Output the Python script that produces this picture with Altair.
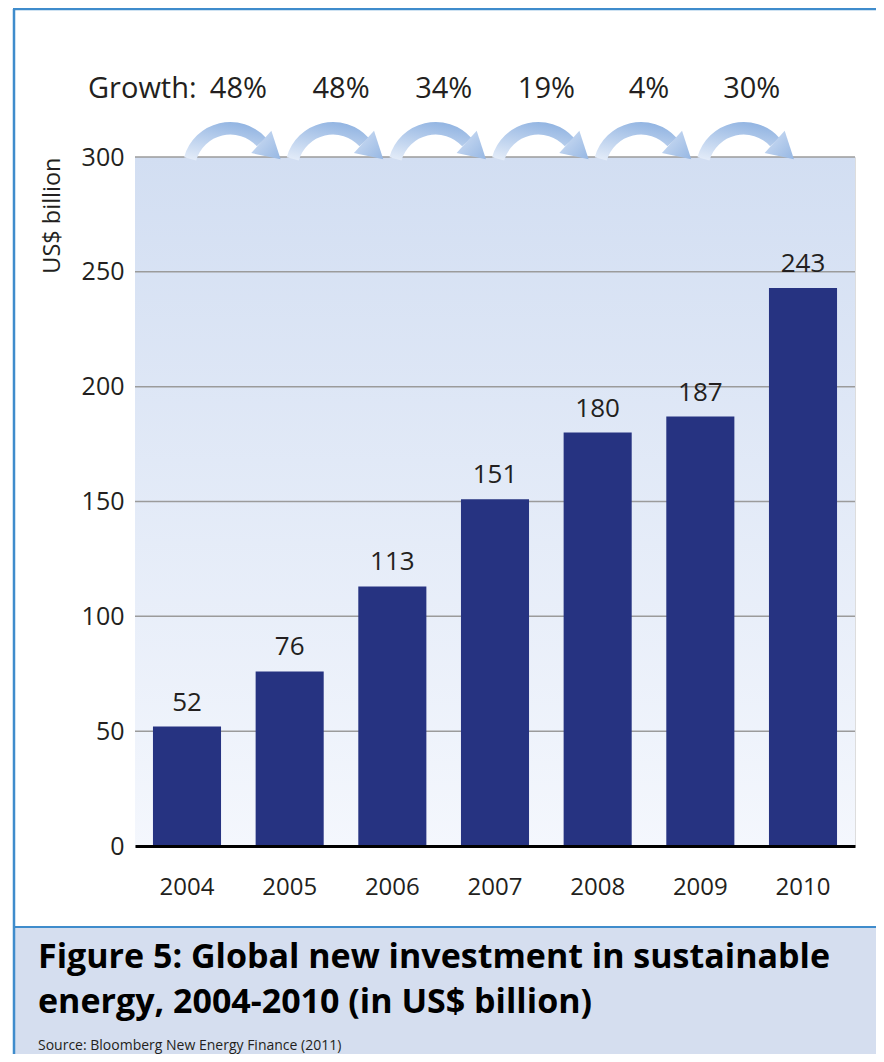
import altair as alt
import pandas as pd

years = ["2004", "2005", "2006", "2007", "2008", "2009", "2010"]
investment = [52, 76, 113, 151, 180, 187, 243]
growth_to_year = ["2005", "2006", "2007", "2008", "2009", "2010"]
growth_labels = ["48%", "48%", "34%", "19%", "4%", "30%"]
y_ticks = [0, 50, 100, 150, 200, 250, 300]

title_line1 = "Figure 5: Global new investment in sustainable"
title_line2 = "energy, 2004-2010 (in US$ billion)"
source_text = "Source: Bloomberg New Energy Finance (2011)"
growth_title = "Growth:"
y_title = "US$ billion"

W, H = 720, 689
FONT = "Open Sans, sans-serif"
TXT = "#231f20"
BAR = "#263381"
BLUE = "#3f8ccc"
HALF_STEP = 51.3
TWO_PI = 6.283185307

bars_df = pd.DataFrame({"year": years, "value": investment})
growth_df = pd.DataFrame({"year": growth_to_year, "label": growth_labels})
grid_df = pd.DataFrame({"value": y_ticks[1:]})
one = pd.DataFrame({"k": [0]})

x_enc = alt.X(
    "year:N", sort=years,
    scale=alt.Scale(paddingInner=0.337, paddingOuter=0.175),
    axis=alt.Axis(title=None, labelAngle=0, labelFont=FONT, labelFontSize=24,
                  labelColor=TXT, ticks=False, tickSize=0, labelPadding=41,
                  labelBaseline="middle", domainColor="#000000", domainWidth=3,
                  zindex=1, grid=False),
)
y_enc = alt.Y(
    "value:Q", scale=alt.Scale(domain=[0, 300], nice=False),
    axis=alt.Axis(values=y_ticks, title=y_title, grid=False, domain=False,
                  ticks=False, tickSize=0, labelPadding=11, labelFont=FONT,
                  labelFontSize=25, labelColor=TXT, titleFont=FONT,
                  titleFontSize=23.5, titleFontWeight="normal", titleColor=TXT,
                  titleX=-83, titleY=0, titleAlign="right",
                  titleBaseline="middle", titleAngle=270),
)

bg = alt.Chart(one).mark_rect(
    color=alt.LinearGradient(
        gradient="linear",
        stops=[alt.GradientStop(color="#d2def2", offset=0),
               alt.GradientStop(color="#f4f7fd", offset=1)],
        x1=0, x2=0, y1=0, y2=1)
).encode(x=alt.value(0), x2=alt.value(W), y=alt.value(0), y2=alt.value(H))

grid = alt.Chart(grid_df).mark_rule(color="#9b9b9b", strokeWidth=1.5).encode(
    y=y_enc, x=alt.value(0), x2=alt.value(W))

bars = alt.Chart(bars_df).mark_bar(color=BAR).encode(x=x_enc, y=y_enc)

vals = alt.Chart(bars_df).mark_text(
    dy=-24, baseline="middle", font=FONT, fontSize=26, color=TXT
).encode(x=x_enc, y=y_enc, text="value:Q")

growth = alt.Chart(growth_df).mark_text(
    xOffset=-HALF_STEP, baseline="middle", font=FONT, fontSize=29, color=TXT
).encode(x=x_enc, y=alt.value(-68), text="label:N")

arcs = alt.Chart(growth_df).mark_arc(
    radius=48, radius2=35.5, theta=TWO_PI - 1.3, theta2=TWO_PI + 0.84,
    xOffset=-HALF_STEP - 8,
    color=alt.LinearGradient(
        gradient="linear",
        stops=[alt.GradientStop(color="#93b5e2", offset=0),
               alt.GradientStop(color="#e2ebf8", offset=1)],
        x1=0.6, x2=0.2, y1=0, y2=1)
).encode(x=x_enc, y=alt.value(13))

heads = alt.Chart(growth_df).mark_point(
    shape="triangle-up", filled=True, size=900, angle=132, opacity=1,
    xOffset=-HALF_STEP + 32.6, strokeWidth=0,
    color=alt.LinearGradient(
        gradient="linear",
        stops=[alt.GradientStop(color="#96b7e3", offset=0),
               alt.GradientStop(color="#bcd1ee", offset=1)],
        x1=0.5, x2=0.5, y1=0, y2=1)
).encode(x=x_enc, y=alt.value(-6.4))

growth_t = alt.Chart(one).mark_text(
    align="left", baseline="middle", font=FONT, fontSize=29, color=TXT
).encode(x=alt.value(-47), y=alt.value(-68), text=alt.value(growth_title))

cap_rect = alt.Chart(one).mark_rect(color="#d5deef").encode(
    x=alt.value(-122), x2=alt.value(760), y=alt.value(770), y2=alt.value(920))
cap_line = alt.Chart(one).mark_rule(color=BLUE, strokeWidth=2).encode(
    x=alt.value(-122), x2=alt.value(760), y=alt.value(770))
border_l = alt.Chart(one).mark_rule(color=BLUE, strokeWidth=2.5).encode(
    x=alt.value(-121), y=alt.value(-148), y2=alt.value(920))
border_t = alt.Chart(one).mark_rule(color=BLUE, strokeWidth=2.5).encode(
    x=alt.value(-122), x2=alt.value(760), y=alt.value(-148))

t1 = alt.Chart(one).mark_text(
    align="left", baseline="middle", font=FONT, fontSize=34, fontWeight="bold", color="#000000"
).encode(x=alt.value(-97), y=alt.value(801), text=alt.value(title_line1))
t2 = alt.Chart(one).mark_text(
    align="left", baseline="middle", font=FONT, fontSize=34, fontWeight="bold", color="#000000"
).encode(x=alt.value(-97), y=alt.value(846), text=alt.value(title_line2))
src = alt.Chart(one).mark_text(
    align="left", baseline="middle", font=FONT, fontSize=14, color=TXT
).encode(x=alt.value(-97), y=alt.value(889), text=alt.value(source_text))

chart = alt.layer(
    bg, grid, bars, vals, arcs, heads, growth, growth_t,
    cap_rect, cap_line, border_l, border_t, t1, t2, src
).properties(
    width=W, height=H,
    padding={"left": 127, "top": 149, "right": 21, "bottom": 208},
    autosize=alt.AutoSizeParams(type="none"),
).configure_view(stroke=None).configure(background="#ffffff")

chart.save("out.html", embed_options={"renderer": "svg", "actions": False})
